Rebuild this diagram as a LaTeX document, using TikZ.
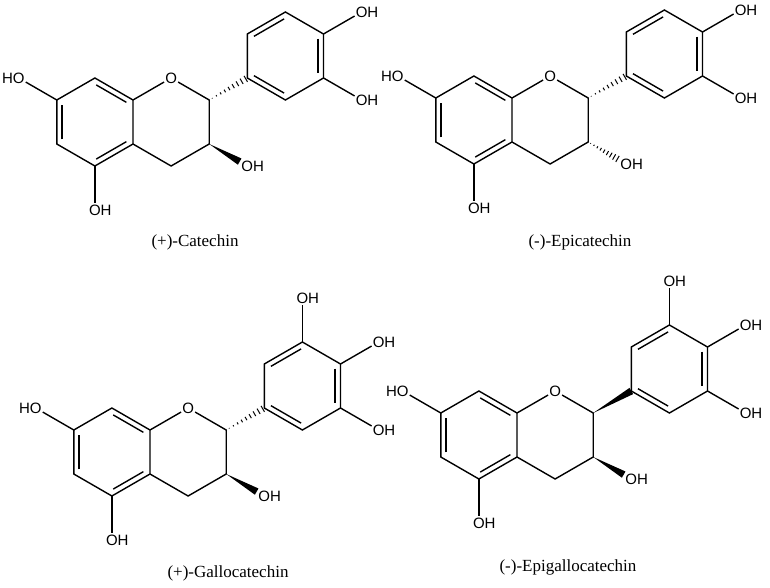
\documentclass[tikz,border=0pt]{standalone}
\usepackage{fontspec}
\setmainfont{Liberation Serif}
\newfontfamily\atomfont{Liberation Sans}
\usetikzlibrary{calc}

% inner line of an aromatic double bond, #3 = ring centre
\newcommand{\innerline}[3]{\draw[bond,shorten <=1.5pt,shorten >=1.5pt] ($(#1)!0.14!(#3)$) -- ($(#2)!0.14!(#3)$);}
\newcommand{\hashbond}[2]{\foreach \pos in {0.08,0.19,...,0.96}
  \draw[hash] ($(#1)!\pos!(#2)!\pos*3.6pt!90:(#2)$) -- ($(#1)!\pos!(#2)!\pos*3.6pt!-90:(#2)$);}
\newcommand{\wedgebond}[2]{\fill ($(#1)$) -- ($(#2)!3.6pt!90:(#1)$) -- ($(#2)!3.6pt!-90:(#1)$) -- cycle;}

\newcommand{\flavan}{%
  % rings A and C
  \coordinate (c8a) at (0,0);
  \coordinate (c4a) at (0,44);
  \coordinate (c5) at (-38.1,66);
  \coordinate (c6) at (-76.2,44);
  \coordinate (c7) at (-76.2,0);
  \coordinate (c8) at (-38.1,-22);
  \coordinate (c2) at (76.2,0);
  \coordinate (c3) at (76.2,44);
  \coordinate (c4) at (38.1,66);
  \coordinate (ca) at (-38.1,22);
  % ring B
  \coordinate (c1p) at (114.3,-22);
  \coordinate (c2p) at (114.3,-66);
  \coordinate (c3p) at (152.4,-88);
  \coordinate (c4p) at (190.5,-66);
  \coordinate (c5p) at (190.5,-22);
  \coordinate (c6p) at (152.4,0);
  \coordinate (cb) at (152.4,-44);
  \node[atom] (o1) at (38.1,-22) {O};
  \node[atom] (o7) at (-114.3,-22) {\llap{H}O};
  \node[atom] (o5) at (-38.1,110) {O\rlap{H}};
  \node[atom] (o3) at (114.3,66) {O\rlap{H}};
  \node[atom] (o4p) at (228.6,-88) {O\rlap{H}};
  \node[atom] (o5p) at (228.6,0) {O\rlap{H}};
  \coordinate (e3) at ($(c3)!0.8!(o3)$);
  \draw[bond] (c8a) -- (c4a) -- (c5) -- (c6) -- (c7) -- (c8) -- cycle;
  \draw[bond] (c8a) -- (o1) -- (c2) -- (c3) -- (c4) -- (c4a);
  \draw[bond] (c1p) -- (c2p) -- (c3p) -- (c4p) -- (c5p) -- (c6p) -- cycle;
  \innerline{c8}{c8a}{ca}
  \innerline{c4a}{c5}{ca}
  \innerline{c6}{c7}{ca}
  \innerline{c2p}{c3p}{cb}
  \innerline{c4p}{c5p}{cb}
  \innerline{c6p}{c1p}{cb}
  \draw[bond] (c7) -- (o7);
  \draw[bond] (c5) -- (o5);
  \draw[bond] (c4p) -- (o4p);
  \draw[bond] (c5p) -- (o5p);
}
\newcommand{\galloyl}{%
  \node[atom] (o3p) at (152.4,-132) {O\rlap{H}};
  \draw[bond] (c3p) -- (o3p);
}

\begin{document}
\begin{tikzpicture}[x=1pt,y=-1pt,
  bond/.style={line width=1.4pt},
  hash/.style={line width=1pt},
  atom/.style={font=\atomfont\fontsize{15}{15}\selectfont,inner sep=1pt},
  title/.style={font=\fontsize{17}{17}\selectfont}]
\useasboundingbox (0,0) rectangle (770,588);

% (+)-catechin
\begin{scope}[shift={(133,100)},name prefix=cat-]
\flavan
\hashbond{c2}{c1p}
\wedgebond{c3}{e3}
\end{scope}
\node[title] (cat) at (195,242) {(+)-Catechin};

% (-)-epicatechin
\begin{scope}[shift={(512,98)},name prefix=ec-]
\flavan
\hashbond{c2}{c1p}
\hashbond{c3}{e3}
\end{scope}
\node[title] (ec) at (580,242) {(-)-Epicatechin};

% (+)-gallocatechin
\begin{scope}[shift={(150,430)},name prefix=gc-]
\flavan
\galloyl
\hashbond{c2}{c1p}
\wedgebond{c3}{e3}
\end{scope}
\node[title] (gc) at (228,573) {(+)-Gallocatechin};

% (-)-epigallocatechin
\begin{scope}[shift={(517,413)},name prefix=egc-]
\flavan
\galloyl
\wedgebond{c2}{c1p}
\wedgebond{c3}{e3}
\end{scope}
\node[title] (egc) at (568,567) {(-)-Epigallocatechin};
\end{tikzpicture}
\end{document}
